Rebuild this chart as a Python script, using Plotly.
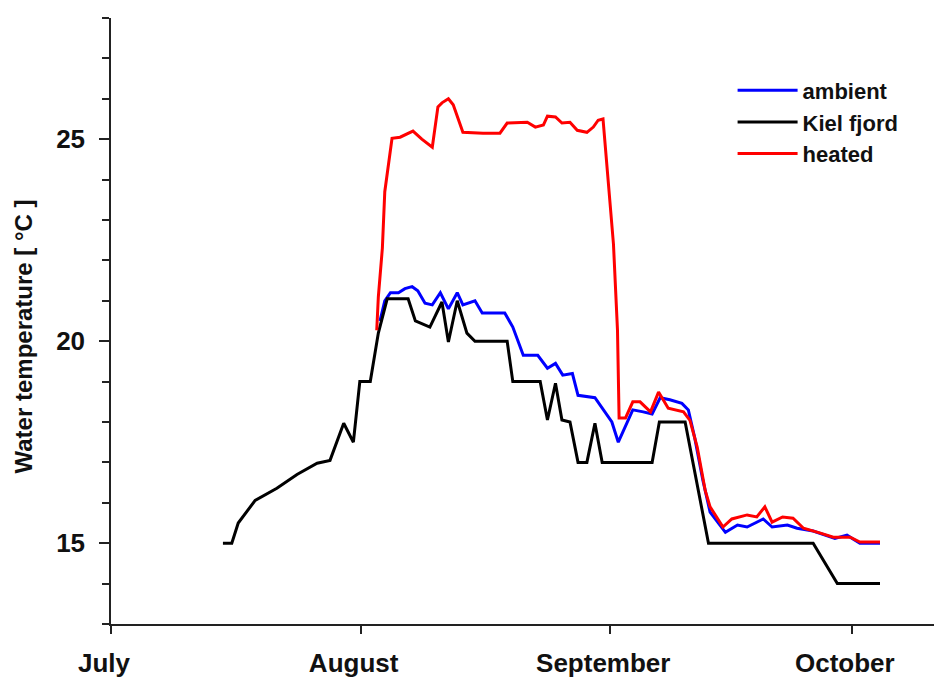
import plotly.graph_objects as go

# days counted from 1 July; temperatures in °C
kiel_days = [13.9, 15.0, 15.8, 17.9, 20.6, 23.1, 25.6, 27.2, 28.9, 30.1, 30.9, 32.2, 33.2, 34.3,
             36.9, 37.8, 39.6, 41.1, 41.9, 43.0, 44.2, 45.2, 49.2, 49.9, 53.3, 54.2, 55.2, 56.0,
             57.0, 58.0, 59.1, 60.1, 61.0, 67.2, 68.1, 71.3, 74.2, 87.2, 90.2, 95.5]
kiel_temp = [15.0, 15.0, 15.5, 16.06, 16.36, 16.7, 16.98, 17.05, 17.97, 17.5, 19.0, 19.0, 20.2, 21.05,
             21.05, 20.5, 20.35, 20.97, 19.98, 21.0, 20.2, 20.0, 20.0, 19.0, 19.0, 18.05, 18.96, 18.05,
             18.0, 17.0, 17.0, 17.97, 17.0, 17.0, 18.0, 18.0, 15.0, 15.0, 14.0, 14.0]

ambient_days = [33.4, 34.0, 34.7, 35.7, 36.5, 37.4, 38.1, 39.0, 39.9, 40.9, 41.9, 43.0, 43.7, 45.2,
                46.1, 48.9, 49.9, 51.2, 53.0, 54.2, 55.2, 56.1, 57.3, 58.0, 60.1, 62.2, 63.0, 64.8,
                66.1, 67.2, 68.2, 69.4, 70.9, 71.7, 72.5, 73.5, 74.4, 76.3, 77.8, 79.0, 81.0, 82.1,
                84.0, 85.2, 87.2, 89.9, 91.4, 93.0, 95.5]
ambient_temp = [20.5, 21.0, 21.2, 21.2, 21.3, 21.35, 21.25, 20.94, 20.9, 21.2, 20.8, 21.2, 20.9, 21.0,
                20.7, 20.7, 20.35, 19.65, 19.65, 19.33, 19.45, 19.16, 19.2, 18.66, 18.6, 18.0, 17.5, 18.3,
                18.25, 18.2, 18.6, 18.55, 18.46, 18.3, 17.6, 16.56, 15.77, 15.27, 15.45, 15.4, 15.6, 15.4,
                15.45, 15.37, 15.3, 15.12, 15.2, 15.0, 15.0]

heated_days = [33.0, 33.2, 33.7, 34.0, 34.9, 35.9, 37.5, 38.6, 39.9, 40.6, 41.1, 41.9, 42.5, 43.7,
               46.2, 48.3, 49.2, 50.8, 51.7, 52.7, 53.7, 54.2, 55.2, 56.0, 57.0, 57.9, 59.1, 59.9,
               60.5, 61.1, 61.4, 61.7, 62.4, 62.9, 63.0, 63.1, 63.9, 64.8, 65.7, 67.0, 68.0, 69.2,
               71.1, 71.9, 72.8, 73.8, 74.4, 76.0, 77.1, 79.0, 80.2, 81.2, 82.1, 83.4, 84.7, 86.0,
               88.1, 89.7, 91.8, 93.0, 95.5]
heated_temp = [20.27, 21.1, 22.3, 23.7, 25.02, 25.05, 25.2, 25.0, 24.8, 25.8, 25.9, 26.0, 25.85, 25.17,
               25.15, 25.15, 25.4, 25.42, 25.42, 25.3, 25.35, 25.57, 25.55, 25.4, 25.42, 25.22, 25.17, 25.3,
               25.47, 25.5, 24.8, 23.98, 22.4, 20.27, 19.1, 18.1, 18.1, 18.5, 18.5, 18.25, 18.74, 18.34,
               18.25, 18.04, 17.38, 16.3, 15.9, 15.4, 15.6, 15.7, 15.65, 15.9, 15.52, 15.65, 15.62, 15.37,
               15.25, 15.15, 15.15, 15.03, 15.03]

month_days = [0, 31, 62, 92]
month_names = ["July", "August", "September", "October"]

fnt = "Liberation Sans, Arial, sans-serif"

fig = go.Figure()
fig.add_trace(go.Scatter(x=ambient_days, y=ambient_temp, mode="lines", name="ambient",
                         line=dict(color="#0000ff", width=3)))
fig.add_trace(go.Scatter(x=kiel_days, y=kiel_temp, mode="lines", name="Kiel fjord",
                         line=dict(color="#000000", width=3)))
fig.add_trace(go.Scatter(x=heated_days, y=heated_temp, mode="lines", name="heated",
                         line=dict(color="#ff0000", width=3)))

# page body has an 8px margin, so the figure is 8px smaller and margins are shifted
fig.update_layout(
    width=934, height=670,
    margin=dict(l=103, r=0, t=10, b=54),
    plot_bgcolor="white", paper_bgcolor="white",
    font=dict(family=fnt, size=24, color="#111111", weight="bold"),
    showlegend=True,
    legend=dict(x=0.748, y=0.915, xanchor="left", yanchor="top",
                bgcolor="rgba(0,0,0,0)", tracegroupgap=0,
                font=dict(family=fnt, size=22, color="#111111", weight="bold"),
                itemwidth=60),
    xaxis=dict(range=[0, 103.2], tickvals=month_days, ticktext=month_names, automargin=False,
               showgrid=False, zeroline=False, showline=True, linecolor="#222222", linewidth=2,
               ticks="outside", ticklen=8, tickcolor="#222222", tickwidth=1.5,
               ticklabelstandoff=7, ticklabelshift=-7,
               tickfont=dict(family=fnt, size=26, weight="bold")),
    yaxis=dict(range=[13, 28], tickvals=[15, 20, 25], automargin=False,
               showgrid=False, zeroline=False, showline=True, linecolor="#222222", linewidth=1.5,
               ticks="outside", ticklen=10, tickcolor="#222222", tickwidth=1.5,
               minor=dict(dtick=1, ticks="outside", ticklen=7, tickcolor="#222222", tickwidth=1.5),
               ticklabelstandoff=9,
               tickfont=dict(family=fnt, size=26, weight="bold")),
)

# y-axis title sits a bit below the middle of the axis, so place it by hand
fig.add_annotation(text="Water temperature [ °C ]", textangle=-90,
                   xref="paper", yref="paper", x=-0.105, y=0.474,
                   xanchor="center", yanchor="middle", showarrow=False,
                   font=dict(family=fnt, size=24, color="#111111", weight="bold"))

fig.write_html("out.html")
